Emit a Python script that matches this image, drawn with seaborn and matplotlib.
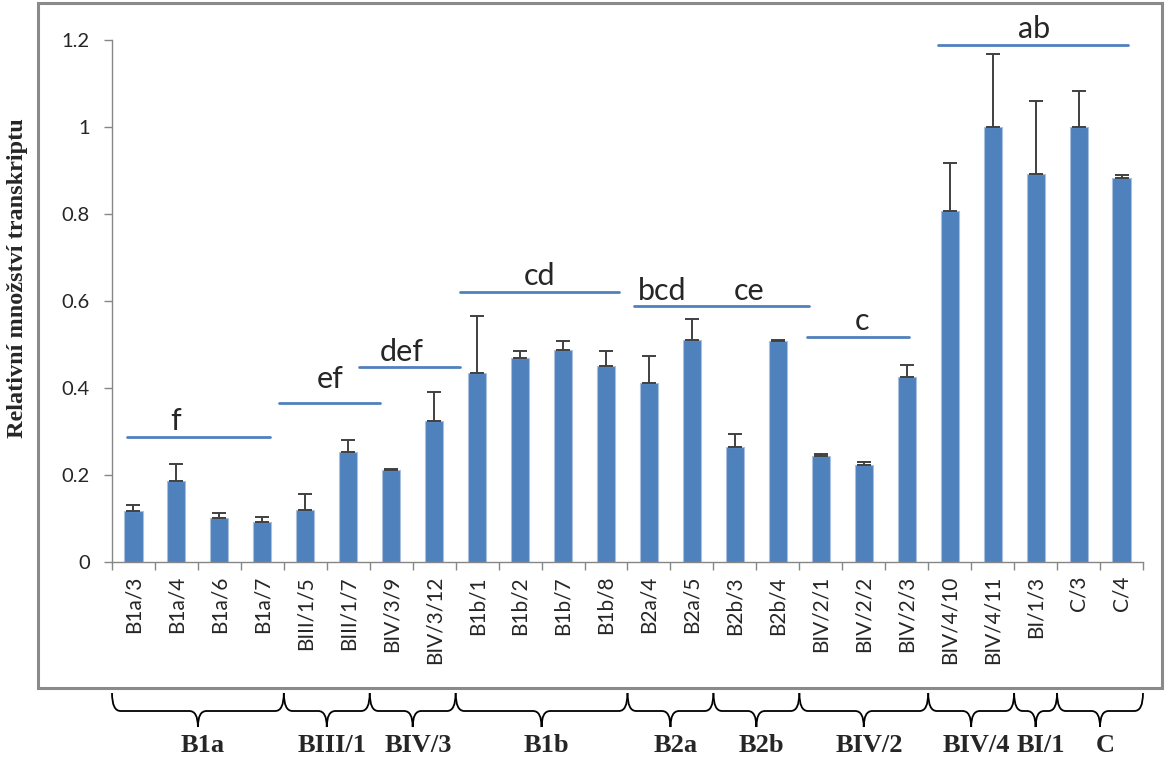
import numpy as np
import pandas as pd
import matplotlib
matplotlib.use('Agg')
import matplotlib.pyplot as plt
import matplotlib.transforms as mtransforms
from matplotlib.path import Path
from matplotlib.patches import PathPatch, Rectangle
import seaborn as sns

# data
samples = ['B1a/3', 'B1a/4', 'B1a/6', 'B1a/7', 'BIII/1/5', 'BIII/1/7', 'BIV/3/9', 'BIV/3/12',
           'B1b/1', 'B1b/2', 'B1b/7', 'B1b/8', 'B2a/4', 'B2a/5', 'B2b/3', 'B2b/4',
           'BIV/2/1', 'BIV/2/2', 'BIV/2/3', 'BIV/4/10', 'BIV/4/11', 'BI/1/3', 'C/3', 'C/4']
values = [0.117, 0.186, 0.102, 0.093, 0.119, 0.252, 0.212, 0.324,
          0.434, 0.470, 0.487, 0.450, 0.411, 0.510, 0.264, 0.507,
          0.244, 0.222, 0.425, 0.806, 1.001, 0.893, 0.999, 0.883]
errors = [0.015, 0.039, 0.010, 0.011, 0.037, 0.028, 0.001, 0.066,
          0.131, 0.014, 0.022, 0.034, 0.063, 0.049, 0.030, 0.003,
          0.005, 0.007, 0.027, 0.112, 0.166, 0.167, 0.083, 0.006]
groups = ['B1a', 'BIII/1', 'BIV/3', 'B1b', 'B2a', 'B2b', 'BIV/2', 'BIV/4', 'BI/1', 'C']
group_sizes = [4, 2, 2, 4, 2, 2, 3, 2, 1, 2]

# significance letters: line spans (x0, x1, y) and text (label, x, y)
sig_lines = [(-0.15, 3.17, 0.288), (3.38, 5.73, 0.366), (5.24, 7.59, 0.448),
             (7.61, 11.31, 0.620), (11.66, 15.73, 0.589), (15.69, 18.06, 0.518),
             (18.73, 23.15, 1.188)]
sig_texts = [('f', 0.97, 0.325), ('ef', 4.57, 0.420), ('def', 6.24, 0.482),
             ('cd', 9.45, 0.657), ('bcd', 12.31, 0.624), ('ce', 14.34, 0.624),
             ('c', 16.97, 0.555), ('ab', 20.97, 1.226)]

sns.set_style("white")
plt.rcParams['font.family'] = ['Lato', 'DejaVu Sans']

BLUE = '#4F81BD'
GREY = '#868686'

W, H = 1168, 758
fig = plt.figure(figsize=(W / 100, H / 100), dpi=100)
ax = fig.add_axes([112 / W, 1 - 562 / H, (1143 - 112) / W, (562 - 40) / H])

df = pd.DataFrame({'sample': samples, 'value': values})
sns.barplot(data=df, x='sample', y='value', color=BLUE, saturation=1, width=0.42,
            errorbar=None, edgecolor='#a9c1df', linewidth=0.8, ax=ax)
pos = np.arange(len(samples))
ax.errorbar(pos, values, yerr=[np.zeros(len(errors)), errors], fmt='none',
            ecolor='#404040', elinewidth=1.4, capsize=4.7, capthick=1.4, zorder=3)

ax.set_xlim(-0.5, len(samples) - 0.5)
ax.set_ylim(0, 1.2)
ax.set_yticks([0, 0.2, 0.4, 0.6, 0.8, 1.0, 1.2])
ax.set_yticklabels(['0', '0.2', '0.4', '0.6', '0.8', '1', '1.2'])
ax.set_xlabel('')
ax.set_ylabel('')
for s in ['top', 'right']:
    ax.spines[s].set_visible(False)
for s in ['left', 'bottom']:
    ax.spines[s].set_color(GREY)
    ax.spines[s].set_linewidth(1.0)
ax.tick_params(axis='y', length=6, width=1, color=GREY, pad=10, labelsize=14.5, left=True)
ax.tick_params(axis='x', which='major', length=0, pad=10, labelsize=15, rotation=90)
ax.set_xticks(np.arange(-0.5, len(samples)), minor=True)
ax.tick_params(axis='x', which='minor', length=6, width=1, color=GREY, bottom=True)

for x0, x1, y in sig_lines:
    ax.plot([x0, x1], [y, y], color=BLUE, lw=2, clip_on=False)
for t, x, y in sig_texts:
    ax.text(x, y, t, ha='center', va='center', fontsize=22, clip_on=False)

# y label and outer frame
fig.text(18 / W, 1 - 278 / H, 'Relativní množství transkriptu', rotation=90,
         ha='center', va='center', fontsize=17.5, fontweight='bold',
         family=['Liberation Serif', 'DejaVu Serif'])
fig.patches.append(Rectangle((38 / W, 1 - 688 / H), (1162 - 38) / W, (688 - 3) / H,
                             transform=fig.transFigure, fill=False, edgecolor='#8a8a8a', lw=2.2))

# curly braces under the groups
trans = mtransforms.blended_transform_factory(ax.transData, fig.transFigure)
y_top, y_mid, y_tip = 1 - 693 / H, 1 - 711 / H, 1 - 727 / H
r = 0.2
start = -0.5
for name, n in zip(groups, group_sizes):
    x0, x1 = start, start + n
    xc = (x0 + x1) / 2
    verts = [(x0, y_top), (x0, y_mid), (x0 + r, y_mid), (xc - r, y_mid),
             (xc, y_mid), (xc, y_tip), (xc, y_mid), (xc + r, y_mid),
             (x1 - r, y_mid), (x1, y_mid), (x1, y_top)]
    codes = [Path.MOVETO, Path.CURVE3, Path.CURVE3, Path.LINETO,
             Path.CURVE3, Path.CURVE3, Path.CURVE3, Path.CURVE3,
             Path.LINETO, Path.CURVE3, Path.CURVE3]
    fig.patches.append(PathPatch(Path(verts, codes), transform=trans, fill=False,
                                 edgecolor='black', lw=1.3))
    fig.text(xc + 0.12, 1 - 746 / H, name, transform=trans, ha='center', va='center',
             fontsize=19, fontweight='bold', family=['Liberation Serif', 'DejaVu Serif'])
    start = x1

fig.savefig('out.png', dpi=100)
